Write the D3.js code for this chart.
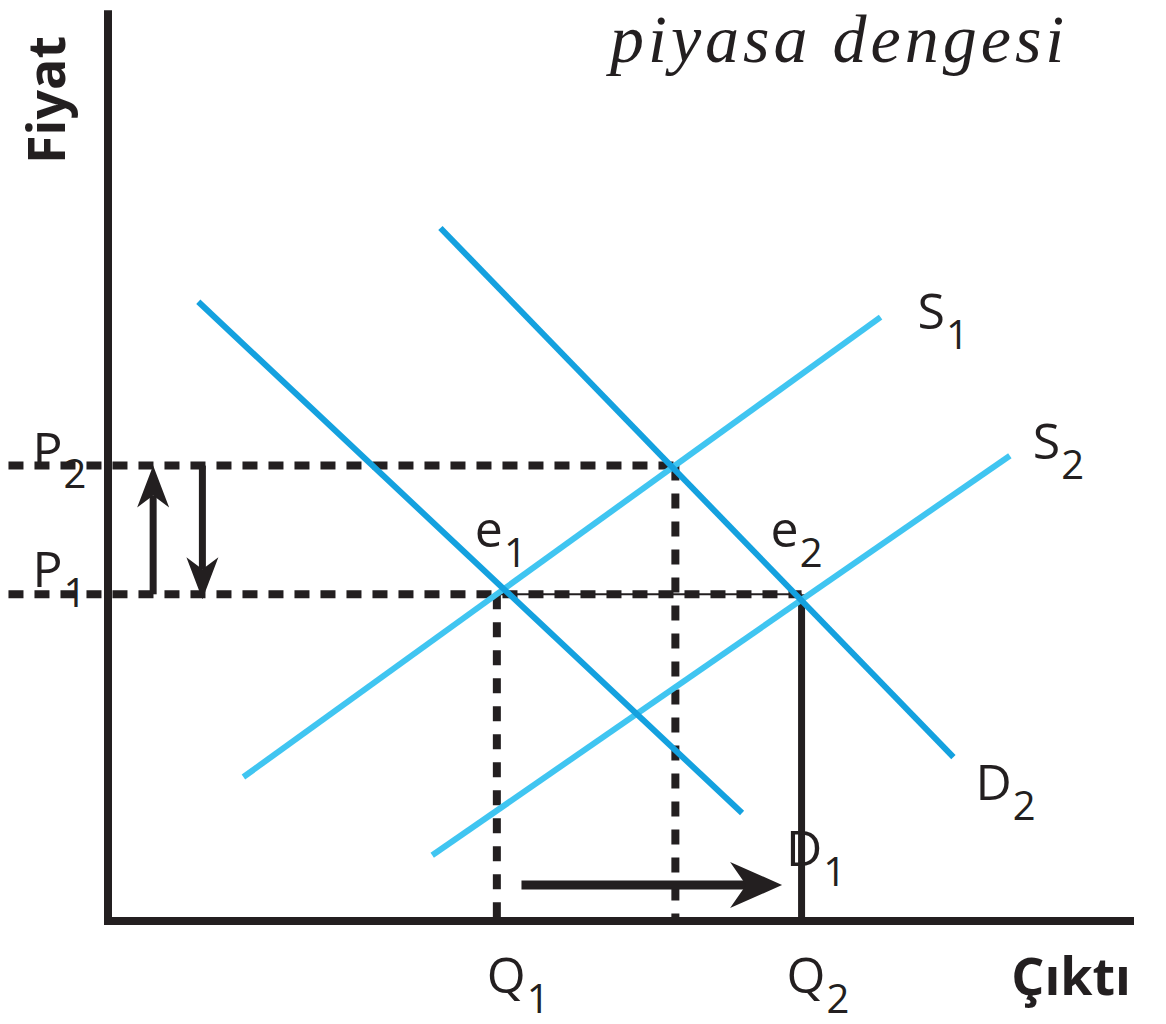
<!DOCTYPE html>
<html>
<head>
<meta charset="utf-8">
<script src="https://cdn.jsdelivr.net/npm/d3@7"></script>
<style>
  body { margin: 0; background: #fff; }
  svg { display: block; }
</style>
</head>
<body>
<svg id="chart" width="1166" height="1024"></svg>
<script>
// Market equilibrium: demand shifts D1 -> D2, supply shifts S1 -> S2.
// Values are in abstract units on a 0..100 grid.

const demandCurves = [
    {name: "D", sub: "1", from: [8.8, 68.8], to: [61.8, 12.0]},
    {name: "D", sub: "2", from: [32.4, 77.0], to: [82.4, 18.2]}
];
const supplyCurves = [
    {name: "S", sub: "1", from: [13.2, 16.0], to: [75.3, 67.1]},
    {name: "S", sub: "2", from: [31.6, 7.3], to: [87.9, 51.7]}
];
const priceLevels = {P1: 36.3, P2: 50.6};
const quantityLevels = {Q1: 37.9, Qmid: 55.3, Q2: 67.6};
const guideStart = -9.7;          // dashed price guides start left of the axis
const priceArrowsQ = [4.4, 9.2];  // up arrow, down arrow
const quantityArrow = {y: 4.0, from: 40.3, to: 65.7};
const axisMax = {x: 100, y: 101.2};

const titleText = "piyasa dengesi";
const yLabel = "Fiyat";
const xLabel = "Çıktı";

const ink = "#231f20";
const demandColor = "#14a1df";
const supplyColor = "#40c5f1";
const font = "'Open Sans', 'Noto Sans', sans-serif";

const svg = d3.select("#chart");

const x = d3.scaleLinear().domain([0, 100]).range([108, 1134]);
const y = d3.scaleLinear().domain([0, 100]).range([921, 21]);

const line = d3.line().x(d => x(d[0])).y(d => y(d[1]));

// Dashed guide lines first, so the curves sit on top of them.
const guides = svg.append("g").attr("stroke", ink).attr("fill", "none");

// thin solid link between e1 and e2
guides.append("path")
    .attr("d", line([[quantityLevels.Q1, priceLevels.P1], [quantityLevels.Q2, priceLevels.P1]]))
    .attr("stroke-width", 2);

guides.append("path")
    .attr("d", line([[guideStart, priceLevels.P2], [quantityLevels.Qmid, priceLevels.P2]]))
    .attr("stroke-width", 8).attr("stroke-dasharray", "15,11");
guides.append("path")
    .attr("d", line([[guideStart, priceLevels.P1], [quantityLevels.Q2, priceLevels.P1]]))
    .attr("stroke-width", 8).attr("stroke-dasharray", "15,11");

guides.append("path")
    .attr("d", line([[quantityLevels.Q1, priceLevels.P1], [quantityLevels.Q1, 0]]))
    .attr("stroke-width", 8).attr("stroke-dasharray", "15,13");
guides.append("path")
    .attr("d", line([[quantityLevels.Qmid, priceLevels.P2], [quantityLevels.Qmid, 0]]))
    .attr("stroke-width", 8).attr("stroke-dasharray", "15,13");
guides.append("path")
    .attr("d", line([[quantityLevels.Q2, priceLevels.P1], [quantityLevels.Q2, 0]]))
    .attr("stroke-width", 7);

// Axes
const axes = svg.append("g").attr("stroke", ink).attr("stroke-width", 8);
axes.append("line")
    .attr("x1", x(0)).attr("x2", x(0))
    .attr("y1", y(0) + 4).attr("y2", y(axisMax.y));
axes.append("line")
    .attr("x1", x(0) - 4).attr("x2", x(axisMax.x))
    .attr("y1", y(0)).attr("y2", y(0));

// Curves
svg.append("g").selectAll("path")
    .data(supplyCurves)
    .join("path")
    .attr("d", d => line([d.from, d.to]))
    .attr("stroke", supplyColor).attr("stroke-width", 6).attr("fill", "none");

svg.append("g").selectAll("path")
    .data(demandCurves)
    .join("path")
    .attr("d", d => line([d.from, d.to]))
    .attr("stroke", demandColor).attr("stroke-width", 6).attr("fill", "none");

// Arrows: shaft plus a barbed head at (x2, y2).
function arrow(g, x1, y1, x2, y2, len, halfW, notch, width) {
    const a = Math.atan2(y2 - y1, x2 - x1);
    const sx = x2 - Math.cos(a) * notch, sy = y2 - Math.sin(a) * notch;
    g.append("line")
        .attr("x1", x1).attr("y1", y1).attr("x2", sx).attr("y2", sy)
        .attr("stroke", ink).attr("stroke-width", width);
    const head = `M0,0 L${-len},${-halfW} L${-notch},0 L${-len},${halfW} Z`;
    g.append("path")
        .attr("d", head)
        .attr("fill", ink)
        .attr("transform", `translate(${x2},${y2}) rotate(${a * 180 / Math.PI})`);
}

const arrows = svg.append("g");
arrow(arrows, x(priceArrowsQ[0]), y(priceLevels.P1), x(priceArrowsQ[0]), y(priceLevels.P2), 42, 16, 30, 7);
arrow(arrows, x(priceArrowsQ[1]), y(priceLevels.P2), x(priceArrowsQ[1]), y(priceLevels.P1) + 5, 42, 16, 30, 7);
arrow(arrows, x(quantityArrow.from), y(quantityArrow.y), x(quantityArrow.to), y(quantityArrow.y), 52, 23, 36, 9);

// Labels with subscripts
function subLabel(px, py, main, sub) {
    const t = svg.append("text")
        .attr("x", px).attr("y", py)
        .attr("font-family", font).attr("font-size", 50)
        .attr("fill", ink);
    t.append("tspan").text(main);
    t.append("tspan").attr("font-size", 40).attr("dx", 1).attr("dy", 20).text(sub);
}

supplyCurves.forEach((d, i) => {
    const off = i === 0 ? [37, 12] : [23, 3];
    subLabel(x(d.to[0]) + off[0], y(d.to[1]) + off[1], d.name, d.sub);
});
demandCurves.forEach((d, i) => {
    const off = i === 0 ? [44, 53] : [22, 43];
    subLabel(x(d.to[0]) + off[0], y(d.to[1]) + off[1], d.name, d.sub);
});

subLabel(x(quantityLevels.Q1) - 22, y(priceLevels.P1) - 47, "e", "1");
subLabel(x(quantityLevels.Q2) - 31, y(priceLevels.P1) - 47, "e", "2");
subLabel(x(guideStart) + 24, y(priceLevels.P2) + 2, "P", "2");
subLabel(x(guideStart) + 24, y(priceLevels.P1) - 7, "P", "1");
subLabel(x(quantityLevels.Q1) - 10, 993, "Q", "1");
subLabel(x(quantityLevels.Q2) - 15, 993, "Q", "2");

// Axis titles
svg.append("text")
    .attr("transform", `translate(65,100) rotate(-90)`)
    .attr("text-anchor", "middle")
    .attr("font-family", font).attr("font-weight", "bold").attr("font-size", 52)
    .attr("fill", ink)
    .text(yLabel);

svg.append("text")
    .attr("x", 1131).attr("y", 995)
    .attr("text-anchor", "end")
    .attr("font-family", font).attr("font-weight", "bold").attr("font-size", 52)
    .attr("fill", ink)
    .text(xLabel);

// Title
svg.append("text")
    .attr("x", 610).attr("y", 62)
    .attr("font-family", "'Liberation Serif', 'DejaVu Serif', serif")
    .attr("font-style", "italic").attr("font-size", 68)
    .attr("letter-spacing", 4)
    .attr("fill", ink)
    .text(titleText);
</script>
</body>
</html>
